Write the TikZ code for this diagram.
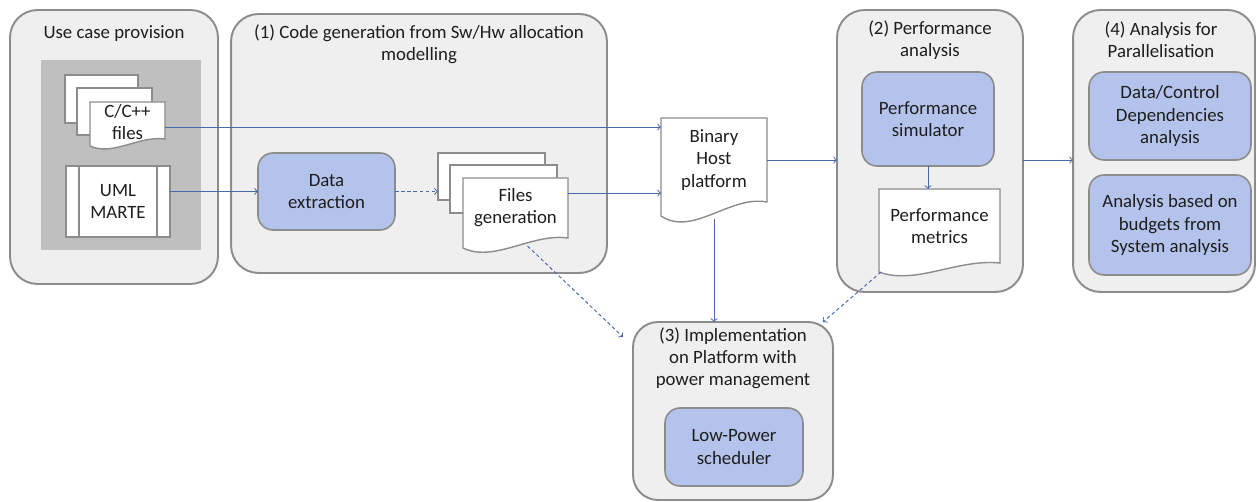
\documentclass[tikz,border=0pt]{standalone}
\usepackage{fontspec}
\setmainfont{Carlito}
\usepackage{xcolor}
\usepackage{tikz}
\usetikzlibrary{calc}
\definecolor{panelGray}{RGB}{239, 239, 239}
\definecolor{edgeGray}{RGB}{140, 140, 140}
\definecolor{innerGray}{RGB}{191, 191, 191}
\definecolor{boxBlue}{RGB}{180, 195, 235}
\definecolor{flowBlue}{RGB}{74, 106, 166}
\definecolor{textDark}{RGB}{30, 30, 30}

\begin{document}
\begin{tikzpicture}[x=0.02cm, y=-0.02cm,
    every node/.style={font=\fontsize{10.7}{12.6}\selectfont, text=textDark, align=center, outer sep=0pt},
    panel/.style={draw=edgeGray, fill=panelGray, line width=1.1pt, rounded corners=0.55cm},
    title/.style={inner sep=0pt},
    bluebox/.style={draw=edgeGray, fill=boxBlue, line width=0.9pt, rounded corners=0.3cm},
    page/.style={draw=edgeGray, fill=white, line width=0.8pt},
    docline/.style={draw=edgeGray, fill=white, line width=0.8pt},
    flow/.style={->, draw=flowBlue, line width=0.55pt},
    dflow/.style={flow, dash pattern=on 2pt off 1.5pt}]
\useasboundingbox (0,0) rectangle (1257,502);

% Stage panels
\node[panel, minimum width=4.16cm, minimum height=5.48cm] (usecase) at (114,147) {};
\node[panel, minimum width=7.52cm, minimum height=5.18cm] (codegen) at (419,143.5) {};
\node[panel, minimum width=3.72cm, minimum height=5.64cm] (perf) at (930,151) {};
\node[panel, minimum width=3.64cm, minimum height=5.64cm] (paral) at (1164,151) {};
\node[panel, minimum width=4.0cm, minimum height=3.56cm, rounded corners=0.5cm] (impl) at (733,411) {};

\node[title] (usecasetitle) at (114,34) {Use case provision};
\node[title] (codegentitle) at (419,44) {(1) Code generation from Sw/Hw allocation\\modelling};
\node[title] (perftitle) at (930,40) {(2) Performance\\analysis};
\node[title] (paraltitle) at (1161,40) {(4) Analysis for\\Parallelisation};
\node[title] (impltitle) at (733,358) {(3) Implementation\\on Platform with\\power management};

% Inputs of the use case
\fill[innerGray] (41,60) rectangle (201,250);
\node[page, minimum width=1.46cm, minimum height=0.96cm] (cpage1) at (101.5,99) {};
\node[page, minimum width=1.5cm, minimum height=0.94cm] (cpage2) at (114.5,111.5) {};
\node[page, minimum width=2.14cm, minimum height=0.94cm] (fgpage1) at (491.5,176.5) {};
\node[page, minimum width=2.14cm, minimum height=0.96cm] (fgpage2) at (503.5,189) {};

% Document outlines with wavy bottom
\foreach \l/\t/\r/\b/\d in {90/102/165/139/7, 463/178/568/238/10, 661/118/767/202/14, 879/189/1000/263/9} {
    \draw[docline] (\l,{\b+\d}) -- (\l,\t) -- (\r,\t) -- (\r,\b)
        .. controls ({\r-0.35*(\r-\l)},{\b-0.5*\d}) and ({\r-0.7*(\r-\l)},{\b+2.5*\d}) .. (\l,{\b+\d}) -- cycle;
}

\node[minimum width=1.5cm] (cfiles) at (127.5,122) {C/C++\\files};
\node[minimum width=2.1cm, minimum height=1.2cm] (filesgen) at (515.5,208) {Files\\generation};
\node[minimum width=2.12cm, minimum height=1.68cm] (binary) at (714,160) {Binary\\Host\\platform};
\node[minimum width=2.42cm, minimum height=1.48cm] (metrics) at (939.5,226) {Performance\\metrics};

\node[page, minimum width=2.08cm, minimum height=1.42cm] (uml) at (118,201.5) {UML\\MARTE};
\draw[docline] ([xshift=0.26cm]uml.north west) -- ([xshift=0.26cm]uml.south west);
\draw[docline] ([xshift=-0.26cm]uml.north east) -- ([xshift=-0.26cm]uml.south east);

% Processing steps
\node[bluebox, minimum width=2.74cm, minimum height=1.54cm] (dataext) at (326.5,191.5) {Data\\extraction};
\node[bluebox, minimum width=2.64cm, minimum height=1.88cm] (perfsim) at (928,119) {Performance\\simulator};
\node[bluebox, minimum width=3.24cm, minimum height=1.76cm] (depend) at (1170,116) {Data/Control\\Dependencies\\analysis};
\node[bluebox, minimum width=3.24cm, minimum height=2.0cm] (budgets) at (1170,225) {Analysis based on\\budgets from\\System analysis};
\node[bluebox, minimum width=2.76cm, minimum height=1.56cm] (lowpower) at (734,447) {Low-Power\\scheduler};

% Connectors
\draw[flow] ([yshift=-0.1cm]cfiles.east) -- ([yshift=-0.1cm]cfiles.east -| binary.west);
\draw[flow] (uml.east |- dataext.west) -- (dataext.west);
\draw[dflow] (dataext.east) -- (dataext.east -| fgpage1.west);
\draw[flow] ([yshift=0.3cm]filesgen.east) -- ([yshift=0.3cm]filesgen.east -| binary.west);
\draw[flow] (binary.east) -- (binary.east -| perf.west);
\draw[flow] ([yshift=-0.34cm]binary.south) -- (binary.south |- impl.north);
\draw[dflow] ([xshift=0.24cm,yshift=-0.16cm]filesgen.south) -- ([xshift=-0.2cm,yshift=-0.3cm]impl.north west);
\draw[dflow] ([xshift=0.04cm,yshift=-0.18cm]metrics.south west) -- ([xshift=-0.2cm]impl.north east);
\draw[flow] (perfsim.south) -- (perfsim.south |- metrics.north);
\draw[flow] ([yshift=-0.18cm]perf.east) -- ([yshift=-0.18cm]perf.east -| paral.west);
\end{tikzpicture}
\end{document}
